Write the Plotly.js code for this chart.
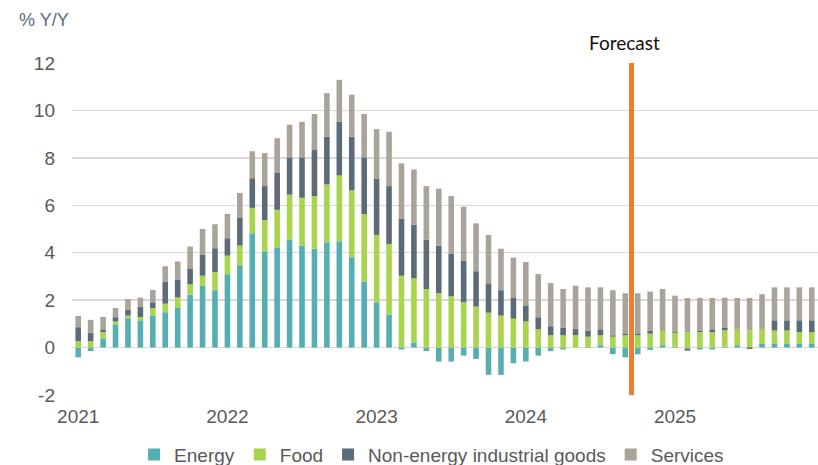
<!DOCTYPE html>
<html>
<head>
<meta charset="utf-8">
<script src="https://cdn.plot.ly/plotly-3.0.1.min.js"></script>
<style>html,body{margin:0;padding:0;background:#fff;}#chart{width:818px;height:465px;}</style>
</head>
<body>
<div id="chart"></div>
<script>
// Months Jan 2021 .. Dec 2025 (index 0..59)
const months = [];
for (let i = 0; i < 60; i++) months.push(i);

const yearTickVals = [0, 12, 24, 36, 48];
const yearTickText = ["2021", "2022", "2023", "2024", "2025"];
const yTickVals = [-2, 0, 2, 4, 6, 8, 10, 12];
const yTickText = ["-2", "0", "2", "4", "6", "8", "10", "12"];

const energy = [-0.41,-0.15,0.39,0.98,1.24,1.15,1.35,1.49,1.67,2.23,2.60,2.42,
  3.09,3.47,4.82,4.06,4.23,4.55,4.30,4.17,4.44,4.48,3.81,2.79,
  1.91,1.40,-0.08,0.22,-0.15,-0.59,-0.59,-0.34,-0.48,-1.15,-1.15,-0.66,
  -0.59,-0.34,-0.15,-0.08,0.01,0.03,0.10,-0.28,-0.41,-0.28,-0.10,0.10,
  0.03,-0.05,-0.08,-0.08,0.03,0.10,0.02,0.15,0.15,0.15,0.15,0.15];

const food = [0.27,0.27,0.26,0.12,0.11,0.14,0.32,0.36,0.44,0.44,0.43,0.76,
  0.79,0.83,1.07,1.32,1.58,1.90,2.02,2.22,2.44,2.78,2.82,2.84,
  2.84,2.97,3.03,2.70,2.47,2.29,2.16,1.91,1.73,1.47,1.35,1.22,
  1.10,0.77,0.52,0.52,0.52,0.43,0.42,0.46,0.52,0.52,0.59,0.62,
  0.59,0.65,0.65,0.65,0.70,0.67,0.70,0.62,0.57,0.57,0.50,0.50];

const neig = [0.59,0.36,0.12,0.18,0.25,0.44,0.24,0.94,0.76,0.67,0.90,1.01,
  0.73,1.19,1.25,1.43,1.58,1.57,1.70,1.94,2.01,2.26,2.26,2.39,
  2.38,2.44,2.41,2.26,2.08,2.01,1.81,1.76,1.49,1.24,1.07,0.87,
  0.68,0.51,0.38,0.32,0.25,0.26,0.25,0.06,0.08,0.08,0.13,0.02,
  0.06,-0.08,0.07,0.12,0.12,0.02,-0.06,0.02,0.43,0.43,0.50,0.50];

const services = [0.47,0.54,0.52,0.39,0.45,0.38,0.52,0.64,0.76,0.92,1.07,1.01,
  1.03,1.03,1.14,1.39,1.44,1.38,1.50,1.52,1.84,1.77,1.77,1.83,
  2.08,2.29,2.33,2.33,2.26,2.40,2.42,2.27,2.02,2.04,1.75,1.70,
  1.83,1.82,1.82,1.63,1.83,1.82,1.77,1.90,1.69,1.69,1.64,1.73,
  1.51,1.44,1.37,1.32,1.25,1.30,1.37,1.46,1.39,1.39,1.39,1.39];

const forecastStart = 44.5; // between Sep 2024 and Oct 2024
const sixMonthTicks = [];
for (let v = -0.5; v <= 59.5; v += 6) sixMonthTicks.push(v);

const seriesNames = ["Energy", "Food", "Non-energy industrial goods", "Services"];
const seriesColors = ["#55AFB2", "#A8D44E", "#5B6B78", "#AAA39A"];
const seriesData = [energy, food, neig, services];

const traces = seriesData.map((d, i) => ({
  type: "bar",
  x: months,
  y: d,
  name: seriesNames[i],
  marker: {color: seriesColors[i], line: {width: 0}},
  hoverinfo: "y+name"
}));

const font = "'Liberation Sans', Arial, sans-serif";

const layout = {
  width: 818, height: 465,
  margin: {l: 72, r: 0, t: 63, b: 70, autoexpand: false},
  paper_bgcolor: "#fff", plot_bgcolor: "#fff",
  barmode: "relative",
  bargap: 0.55,
  showlegend: true,
  legend: {
    orientation: "h", x: 0.482, xanchor: "center", y: -0.18, yanchor: "middle",
    font: {family: font, size: 19, color: "#595959"},
    itemwidth: 30, itemgap: 13, traceorder: "normal"
  },
  xaxis: {
    range: [-0.5, 59.5],
    tickmode: "array", tickvals: yearTickVals, ticktext: yearTickText,
    ticks: "", showgrid: false, zeroline: false, showline: false,
    tickfont: {family: font, size: 19, color: "#595959"},
    ticklabelstandoff: 8,
    fixedrange: true
  },
  xaxis2: {
    overlaying: "x", anchor: "free", position: 2/14,
    range: [-0.5, 59.5],
    tickmode: "array", tickvals: sixMonthTicks,
    ticks: "outside", ticklen: 4, tickcolor: "#d0d0d0", tickwidth: 1,
    showticklabels: false, showgrid: false, zeroline: false,
    showline: true, linecolor: "#d9d9d9", linewidth: 1.5
  },
  yaxis: {
    range: [-2, 12],
    tickmode: "array", tickvals: yTickVals, ticktext: yTickText,
    showgrid: true, gridcolor: "#d9d9d9", gridwidth: 1.5,
    zeroline: false, showline: false, ticks: "",
    tickfont: {family: font, size: 19, color: "#595959"},
    ticklabelstandoff: 16,
    fixedrange: true
  },
  shapes: [{
    type: "line", xref: "x", yref: "paper",
    x0: forecastStart, x1: forecastStart, y0: 0, y1: 1,
    line: {color: "#ED7D31", width: 5}
  }],
  annotations: [
    {text: "Forecast", xref: "x", yref: "paper", x: forecastStart, y: (395 - 42) / 332,
     xanchor: "center", yanchor: "middle", showarrow: false, xshift: -7,
     font: {family: "Lato, 'Open Sans', sans-serif", size: 19, color: "#111"}},
    {text: "% Y/Y", xref: "paper", yref: "paper", x: -0.074, y: (395 - 20) / 332,
     xanchor: "left", yanchor: "middle", showarrow: false,
     font: {family: font, size: 18, color: "#5B6B78"}}
  ]
};

Plotly.newPlot("chart", traces, layout, {staticPlot: true, displayModeBar: false});
</script>
</body>
</html>
